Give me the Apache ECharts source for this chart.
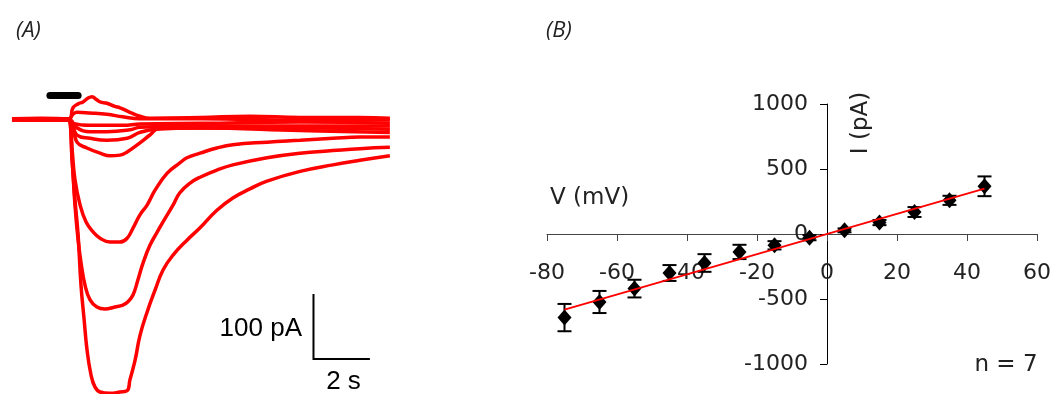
<!DOCTYPE html>
<html><head><meta charset="utf-8">
<script src="https://cdn.jsdelivr.net/npm/echarts@6/dist/echarts.min.js"></script>
<style>html,body{margin:0;padding:0;background:#fff}#c{width:1054px;height:394px}</style>
</head><body><div id="c"></div>
<script>
// ---------- Panel A: current traces (time in s, current in pA) ----------
const trace1 = [[0,0],[1.0,-1],[1.86,1],[2.0,0],[2.11,-63],[2.21,-124],[2.32,-178],[2.42,-255],[2.53,-308],[2.63,-354],[2.77,-393],[2.91,-412],[3.09,-420],[3.44,-422],[3.79,-420],[4.04,-418],[4.14,-401],[4.32,-371],[4.49,-333],[4.74,-297],[5.02,-263],[5.30,-232],[5.65,-209],[6.14,-186],[6.60,-167],[7.19,-140],[7.75,-121],[8.35,-107],[8.95,-95],[10.11,-80],[11.26,-70],[12.21,-63],[13.26,-56]];
const trace2 = [[0,0],[1.0,1],[1.86,-1],[2.0,0],[2.11,-62],[2.21,-132],[2.32,-186],[2.42,-220],[2.56,-255],[2.74,-278],[2.98,-289],[3.26,-292],[3.61,-289],[3.89,-286],[4.07,-281],[4.25,-270],[4.42,-247],[4.60,-221],[4.84,-194],[5.09,-174],[5.30,-158],[5.65,-132],[5.89,-113],[6.25,-98],[6.60,-89],[7.19,-78],[7.75,-70],[8.95,-59],[10.11,-52],[11.26,-48],[12.21,-45],[13.26,-43]];
const trace3 = [[0,1],[1.0,0],[2.0,-1],[2.11,-47],[2.21,-93],[2.39,-132],[2.60,-158],[2.84,-173],[3.09,-183],[3.44,-189],[3.79,-189],[4.04,-183],[4.25,-167],[4.49,-147],[4.74,-132],[5.02,-109],[5.44,-83],[5.89,-67],[6.14,-59],[6.60,-52],[7.19,-44],[7.75,-39],[8.95,-35],[10.11,-32],[11.26,-29],[12.21,-27],[13.26,-27]];
const trace4 = [[0,1],[1.0,2],[2.0,1],[2.14,18],[2.32,24],[2.49,27],[2.67,33],[2.81,35],[2.95,31],[3.09,27],[3.33,25],[3.61,20],[3.79,18],[4.14,11],[4.49,5],[4.84,2],[6.60,3],[8.35,5],[10.11,3],[12.21,3],[13.26,2]];
const trace5 = [[0,0],[1.0,-1],[2.0,1],[2.14,8],[2.28,11],[2.74,10],[3.33,8],[3.89,4],[4.49,1],[6.60,1],[10.11,-1],[13.26,-1]];
const trace6 = [[0,-1],[1.0,0],[2.0,0],[2.14,-6],[2.74,-9],[3.89,-9],[4.49,-7],[6.60,-6],[10.11,-4],[13.26,-6]];
const trace7 = [[0,0],[1.0,1],[2.0,-1],[2.28,-13],[2.74,-19],[3.33,-19],[4.14,-16],[4.49,-12],[6.60,-10],[10.11,-10],[13.26,-10]];
const trace8 = [[0,1],[1.0,0],[2.0,-1],[2.28,-24],[2.74,-29],[3.33,-32],[4.04,-29],[4.49,-20],[5.02,-15],[6.60,-13],[10.11,-13],[13.26,-15]];
const trace9 = [[0,0],[1.0,-1],[2.0,-1],[2.28,-35],[2.63,-44],[3.09,-52],[3.44,-56],[3.79,-55],[4.04,-50],[4.49,-36],[4.84,-24],[5.19,-13],[6.60,-13],[10.11,-17],[13.26,-20]];
const stimulusBar = [[1.33,37],[2.32,37]];
const scaleBar = [[10.58,-269],[10.58,-369],[12.56,-369]];

// ---------- Panel B: I-V relation ----------
const voltages = [-75,-65,-55,-45,-35,-25,-15,-5,5,15,25,35,45];
const currents = [-643,-523,-420,-300,-223,-138,-87,-28,28,88,169,259,367];
const errors   = [105,85,68,61,68,55,32,20,15,20,38,35,76];
const fitV = [-75,45];
const fitI = [-582,349];
const xTicks = [-80,-60,-40,-20,0,20,40,60];
const yTicks = [-1000,-500,0,500,1000];

const traces = [trace1,trace2,trace3,trace4,trace5,trace6,trace7,trace8,trace9];
const chart = echarts.init(document.getElementById('c'), null, {renderer:'canvas'});

const traceSeries = traces.map(t => ({
  type:'line', xAxisIndex:0, yAxisIndex:0, data:t, symbol:'none', smooth:0.45,
  lineStyle:{color:'#ff0000', width:3.5}, silent:true, clip:false
}));

const tickFont = {fontFamily:'DejaVu Sans', fontSize:22, color:'#222', formatter:v => String(v)};

chart.setOption({
  animation:false,
  backgroundColor:'#fff',
  grid:[
    {left:12, top:87, width:379, height:311.5, containLabel:false, outerBoundsMode:'none'},
    {left:547, top:104, width:490, height:260, containLabel:false, outerBoundsMode:'none'}
  ],
  xAxis:[
    {gridIndex:0, type:'value', min:0, max:13.3, show:false},
    {gridIndex:1, type:'value', min:xTicks[0], max:xTicks[xTicks.length-1], interval:20, offset:-130,
     axisLine:{show:true, onZero:false, lineStyle:{color:'#444', width:1}},
     axisTick:{show:true, length:7, lineStyle:{color:'#444', width:1}},
     axisLabel:Object.assign({margin:28}, tickFont),
     splitLine:{show:false}}
  ],
  yAxis:[
    {gridIndex:0, type:'value', min:-430, max:50, show:false},
    {gridIndex:1, type:'value', min:yTicks[0], max:yTicks[yTicks.length-1], interval:500, offset:-280,
     axisLine:{show:true, onZero:false, lineStyle:{color:'#000', width:1}},
     axisTick:{show:true, length:7, lineStyle:{color:'#000', width:1}},
     axisLabel:Object.assign({margin:19}, tickFont),
     splitLine:{show:false}}
  ],
  graphic:[
    {type:'text', x:16, y:31, silent:true, style:{text:'(A)', verticalAlign:'middle', font:'italic 22px "Open Sans"', fill:'#222'}},
    {type:'text', x:546, y:31, silent:true, style:{text:'(B)', verticalAlign:'middle', font:'italic 22px "Open Sans"', fill:'#222'}},
    {type:'text', x:302, y:329, silent:true, style:{text:'100 pA', align:'right', verticalAlign:'middle', font:'26px "Liberation Sans"', fill:'#000'}},
    {type:'text', x:343.5, y:382, silent:true, style:{text:'2 s', align:'center', verticalAlign:'middle', font:'26px "Liberation Sans"', fill:'#000'}},
    {type:'text', x:550, y:198, silent:true, style:{text:'V (mV)', align:'left', verticalAlign:'middle', font:'23px "DejaVu Sans"', fill:'#222'}},
    {type:'text', x:861, y:123, rotation:Math.PI/2, silent:true, style:{text:'I (pA)', align:'center', verticalAlign:'middle', font:'23px "DejaVu Sans"', fill:'#222'}},
    {type:'text', x:1006, y:365, silent:true, style:{text:'n = 7', align:'center', verticalAlign:'middle', font:'23px "DejaVu Sans"', fill:'#222'}}
  ],
  series: traceSeries.concat([
    {type:'line', xAxisIndex:0, yAxisIndex:0, data:stimulusBar, symbol:'none', silent:true,
     lineStyle:{color:'#000', width:7, cap:'round'}},
    {type:'line', xAxisIndex:0, yAxisIndex:0, data:scaleBar, symbol:'none', silent:true, clip:false,
     lineStyle:{color:'#000', width:2, cap:'butt', join:'miter'}},
    {type:'custom', xAxisIndex:1, yAxisIndex:1, silent:true, z:2,
     data: voltages.map((v,i)=>[v, currents[i]-errors[i], currents[i]+errors[i]]),
     renderItem:function(params, api){
       const lo = api.coord([api.value(0), api.value(1)]);
       const hi = api.coord([api.value(0), api.value(2)]);
       const hw = 7, st = {stroke:'#000', lineWidth:2};
       return {type:'group', children:[
         {type:'line', shape:{x1:lo[0], y1:lo[1], x2:hi[0], y2:hi[1]}, style:st},
         {type:'line', shape:{x1:lo[0]-hw, y1:lo[1], x2:lo[0]+hw, y2:lo[1]}, style:st},
         {type:'line', shape:{x1:hi[0]-hw, y1:hi[1], x2:hi[0]+hw, y2:hi[1]}, style:st}
       ]};
     }},
    {type:'scatter', xAxisIndex:1, yAxisIndex:1, silent:true, z:3,
     data: voltages.map((v,i)=>[v, currents[i]]),
     symbol:'diamond', symbolSize:[14,16], itemStyle:{color:'#000', opacity:1}},
    {type:'line', xAxisIndex:1, yAxisIndex:1, silent:true, z:4,
     data: fitV.map((v,i)=>[v, fitI[i]]), symbol:'none',
     lineStyle:{color:'#ff0000', width:2}}
  ])
});
</script>
</body></html>
